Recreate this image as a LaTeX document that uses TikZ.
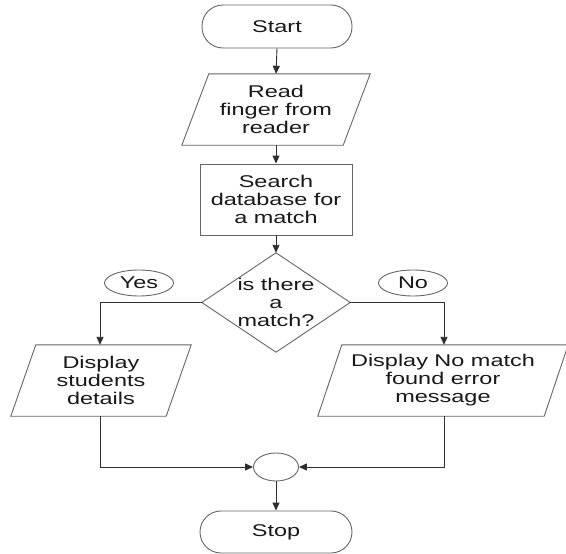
\documentclass[tikz,border=0pt]{standalone}
\usepackage{fontspec}
\setmainfont{Liberation Sans}[FakeStretch=1.38]
\usetikzlibrary{shapes.geometric,arrows.meta}
\definecolor{edgegray}{HTML}{656565}
\definecolor{linegray}{HTML}{2E2E2E}
\definecolor{txt}{HTML}{181818}
\begin{document}
\begin{tikzpicture}[x=1pt,y=-1pt,
  every node/.style={font=\fontsize{17}{18}\selectfont, text=txt, align=center, inner sep=0pt},
  term/.style={draw=edgegray, line width=0.9pt, rounded corners=21pt, minimum width=150pt, minimum height=43pt},
  procbox/.style={draw=edgegray, line width=0.9pt, minimum width=152pt, minimum height=71pt},
  hidden/.style={minimum width=#1, minimum height=71pt},
  shapeline/.style={draw=edgegray, line width=0.9pt},
  lab/.style={draw=edgegray, line width=0.9pt, ellipse, minimum width=69pt, minimum height=26pt},
  joint/.style={draw=edgegray, line width=0.9pt, ellipse, minimum width=45pt, minimum height=28pt},
  flow/.style={draw=linegray, line width=0.9pt, -{Triangle[length=8pt,width=7pt]}}
]
\useasboundingbox (0,0) rectangle (566,554);

\node[term] (start) at (277,26.5) {Start};
\node[hidden=161pt] (read) at (276,109.5) {Read\\finger from\\reader};
\draw[shapeline] ([xshift=13.5pt]read.north west) -- ([xshift=13.5pt]read.north east)
  -- ([xshift=-13.5pt]read.south east) -- ([xshift=-13.5pt]read.south west) -- cycle;
\node[procbox] (search) at (276,199.5) {Search\\database for\\a match};
\node[minimum width=148pt, minimum height=99pt] (dec) at (276,302.5) {is there\\a\\match?};
\draw[shapeline] (dec.north) -- (dec.east) -- (dec.south) -- (dec.west) -- cycle;
\node[lab] (yes) at (139,283) {Yes};
\node[lab] (no) at (413,283) {No};
\node[hidden=155pt] (dleft) at (101,380.5) {Display\\students\\details};
\draw[shapeline] ([xshift=12.5pt]dleft.north west) -- ([xshift=12.5pt]dleft.north east)
  -- ([xshift=-12.5pt]dleft.south east) -- ([xshift=-12.5pt]dleft.south west) -- cycle;
\node[hidden=226pt] (dright) at (443,380.5) {Display No match\\found error\\message};
\draw[shapeline] ([xshift=12pt]dright.north west) -- ([xshift=12pt]dright.north east)
  -- ([xshift=-12pt]dright.south east) -- ([xshift=-12pt]dright.south west) -- cycle;
\node[joint] (merge) at (276,467) {};
\node[term, minimum width=152pt, minimum height=42pt] (stop) at (276,532) {Stop};

\draw[flow] (start.south) -- (read.north);
\draw[flow] (read.south) -- (search.north);
\draw[flow] (search.south) -- (dec.north);
\draw[flow] (dec.west) -| ([xshift=-1pt]dleft.north);
\draw[flow] (dec.east) -| ([xshift=1pt]dright.north);
\draw[flow] ([xshift=-1pt]dleft.south) |- (merge.west);
\draw[flow] ([xshift=1pt]dright.south) |- (merge.east);
\draw[flow] (merge.south) -- (stop.north);
\end{tikzpicture}
\end{document}
